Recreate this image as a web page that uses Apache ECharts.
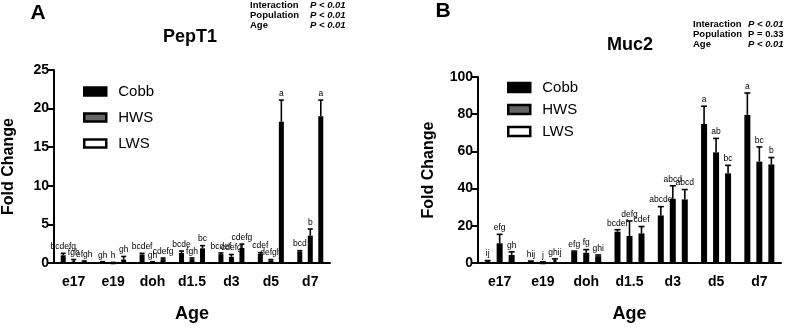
<!DOCTYPE html>
<html>
<head>
<meta charset="utf-8">
<script src="https://cdn.jsdelivr.net/npm/echarts@6/dist/echarts.min.js"></script>
<style>
  html, body { margin: 0; padding: 0; background: #fff; }
  #chart { width: 791px; height: 328px; }
</style>
</head>
<body>
<div id="chart"></div>
<script>
var categories = ['e17', 'e19', 'doh', 'd1.5', 'd3', 'd5', 'd7'];
var groups = ['Cobb', 'HWS', 'LWS'];

// PepT1 (panel A): mean and upper error
var pepCobb = [1.0, 0.12, 1.1, 1.3, 1.15, 1.2, 1.5];
var pepCobbErr = [0.25, 0.05, 0.15, 0.25, 0.15, 0.15, 0.1];
var pepHws = [0.3, 0.03, 0.12, 0.5, 0.8, 0.35, 3.55];
var pepHwsErr = [0.15, 0.02, 0.05, 0.15, 0.3, 0.1, 0.85];
var pepLws = [0.18, 0.45, 0.5, 1.9, 1.95, 18.3, 19.0];
var pepLwsErr = [0.08, 0.4, 0.15, 0.35, 0.5, 2.8, 2.1];
var pepCobbTxt = ['bcdefg', 'gh', 'bcdef', 'bcde', 'bcdef', 'cdef', 'bcd'];
var pepHwsTxt = ['fgh', 'h', 'gh', 'fgh', 'cdefg', 'defgh', 'b'];
var pepLwsTxt = ['efgh', 'gh', 'cdefg', 'bc', 'cdefg', 'a', 'a'];

// Muc2 (panel B)
var mucCobb = [1.0, 0.8, 6.0, 16.8, 25.6, 74.7, 79.6];
var mucCobbErr = [0.3, 0.2, 0.4, 1.1, 4.7, 9.6, 11.8];
var mucHws = [10.6, 0.4, 5.5, 14.5, 34.5, 59.5, 54.5];
var mucHwsErr = [4.8, 0.2, 1.7, 8.1, 7.0, 7.5, 7.9];
var mucLws = [4.3, 1.5, 3.7, 15.9, 34.2, 48.2, 53.0];
var mucLwsErr = [1.7, 0.7, 0.6, 3.7, 5.3, 4.3, 3.7];
var mucCobbTxt = ['ij', 'hij', 'efg', 'bcdef', 'abcde', 'a', 'a'];
var mucHwsTxt = ['efg', 'j', 'fg', 'defg', 'abcd', 'ab', 'bc'];
var mucLwsTxt = ['gh', 'ghij', 'ghi', 'cdef', 'abcd', 'bc', 'b'];

var yTicksA = [0, 5, 10, 15, 20, 25];
var yTicksB = [0, 20, 40, 60, 80, 100];

var FONT = 'Liberation Sans, Arial, sans-serif';
var fills = ['#000', '#666', '#fff'];

function errRender(offset, cap, labels) {
  return function (params, api) {
    var c = api.value(0);
    var base = api.coord([c, api.value(1)]);
    var top = api.coord([c, api.value(1) + api.value(2)]);
    var x = base[0] + offset;
    return {
      type: 'group',
      children: [
        { type: 'line', shape: { x1: x, y1: base[1], x2: x, y2: top[1] }, style: { stroke: '#000', lineWidth: 1.6 } },
        { type: 'line', shape: { x1: x - cap, y1: top[1], x2: x + cap, y2: top[1] }, style: { stroke: '#000', lineWidth: 1.6 } },
        { type: 'text', x: x, y: top[1] - 2,
          style: { text: labels[params.dataIndex], font: '8.5px ' + FONT, fill: '#000', align: 'center', verticalAlign: 'bottom' } }
      ]
    };
  };
}

function xAxisCfg(gi) {
  return {
    type: 'category', gridIndex: gi, data: categories,
    name: 'Age', nameLocation: 'middle', nameGap: 42,
    nameTextStyle: { fontFamily: FONT, fontWeight: 'bold', fontSize: 18, color: '#000' },
    axisLine: { lineStyle: { color: '#000', width: 2 } },
    axisTick: { alignWithLabel: true, length: 8, lineStyle: { color: '#000', width: 2 } },
    axisLabel: { fontFamily: FONT, fontWeight: 'bold', fontSize: 14, color: '#000', margin: 12 }
  };
}
function yAxisCfg(gi, ticks, gap) {
  return {
    type: 'value', gridIndex: gi, min: ticks[0], max: ticks[ticks.length - 1],
    interval: ticks[1] - ticks[0],
    name: 'Fold Change', nameLocation: 'middle', nameGap: gap,
    nameTextStyle: { fontFamily: FONT, fontWeight: 'bold', fontSize: 16, color: '#000' },
    axisLine: { show: true, lineStyle: { color: '#000', width: 2 } },
    axisTick: { show: true, length: 6, lineStyle: { color: '#000', width: 2 } },
    axisLabel: { fontFamily: FONT, fontWeight: 'bold', fontSize: 14, color: '#000', margin: 5 },
    splitLine: { show: false }
  };
}

var series = [];
function addPanel(gi, means, errs, txts, bw, gapPct, step, cap, border) {
  for (var i = 0; i < 3; i++) {
    series.push({
      name: groups[i], type: 'bar', xAxisIndex: gi, yAxisIndex: gi,
      barWidth: bw, barGap: gapPct,
      itemStyle: { color: fills[i], borderColor: '#000', borderWidth: border },
      data: means[i], z: 2
    });
  }
  for (var j = 0; j < 3; j++) {
    var d = [];
    for (var k = 0; k < categories.length; k++) d.push([k, means[j][k], errs[j][k]]);
    series.push({
      type: 'custom', xAxisIndex: gi, yAxisIndex: gi, z: 5, clip: false,
      renderItem: errRender((j - 1) * step, cap, txts[j]), data: d
    });
  }
}
addPanel(0, [pepCobb, pepHws, pepLws], [pepCobbErr, pepHwsErr, pepLwsErr],
  [pepCobbTxt, pepHwsTxt, pepLwsTxt], 5, '110%', 10.5, 2.5, 2.5);
addPanel(1, [mucCobb, mucHws, mucLws], [mucCobbErr, mucHwsErr, mucLwsErr],
  [mucCobbTxt, mucHwsTxt, mucLwsTxt], 6, '100%', 12, 3, 3);

function txt(x, y, s, font, align) {
  return { type: 'text', x: x, y: y, style: { text: s, font: font, fill: '#000', align: align || 'left', verticalAlign: 'middle' } };
}
var sb = 'bold 9.5px ' + FONT, si = 'italic bold 9.5px ' + FONT;

var legendItem = { borderColor: '#000', borderWidth: 2.5 };

var option = {
  animation: false,
  grid: [
    { left: 51, right: 461, top: 70, bottom: 55 },
    { left: 478, right: 10, top: 77, bottom: 55 }
  ],
  xAxis: [xAxisCfg(0), xAxisCfg(1)],
  yAxis: [yAxisCfg(0, yTicksA, 37), yAxisCfg(1, yTicksB, 41)],
  legend: [
    { data: groups, orient: 'vertical', left: 78, top: 79, icon: 'rect', itemWidth: 22, itemHeight: 8, itemGap: 11,
      itemStyle: legendItem, selectedMode: false,
      textStyle: { fontFamily: FONT, fontSize: 15, color: '#000', padding: [0, 0, 0, 7] } },
    { data: groups, orient: 'vertical', left: 502, top: 75, icon: 'rect', itemWidth: 22, itemHeight: 9, itemGap: 7,
      itemStyle: legendItem, selectedMode: false,
      textStyle: { fontFamily: FONT, fontSize: 15, color: '#000', padding: [0, 0, 0, 7] } }
  ],
  graphic: [
    txt(38, 13, 'A', 'bold 21px ' + FONT, 'center'),
    txt(443, 11, 'B', 'bold 21px ' + FONT, 'center'),
    txt(190, 37, 'PepT1', 'bold 18px ' + FONT, 'center'),
    txt(630, 45, 'Muc2', 'bold 18px ' + FONT, 'center'),
    txt(250, 5, 'Interaction', sb), txt(310, 5, 'P < 0.01', si),
    txt(250, 15, 'Population', sb), txt(310, 15, 'P < 0.01', si),
    txt(250, 25, 'Age', sb), txt(310, 25, 'P < 0.01', si),
    txt(693, 24, 'Interaction', sb), txt(748, 24, 'P < 0.01', si),
    txt(693, 34, 'Population', sb), txt(748, 34, 'P = 0.33', sb),
    txt(693, 44, 'Age', sb), txt(748, 44, 'P < 0.01', si)
  ],
  series: series
};

var myChart = echarts.init(document.getElementById('chart'));
myChart.setOption(option);
</script>
</body>
</html>
